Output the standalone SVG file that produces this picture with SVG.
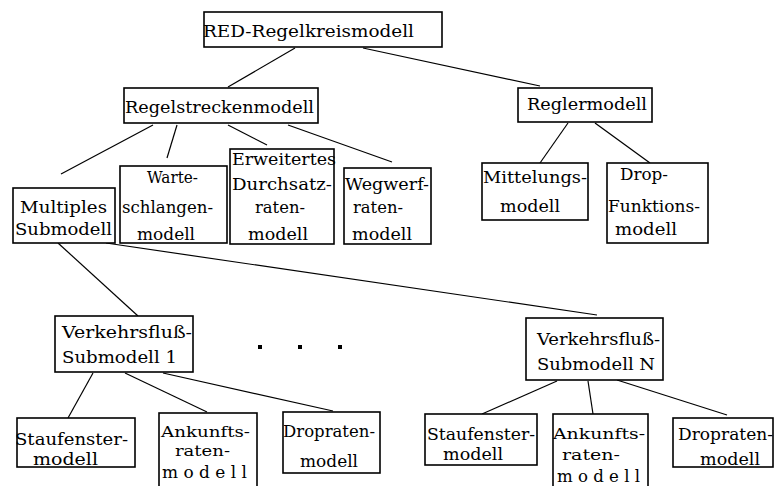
<svg xmlns="http://www.w3.org/2000/svg" width="775" height="486" viewBox="0 0 775 486">
<style>
.b{fill:#fff;stroke:#000;stroke-width:1.6}
.t{font-family:"DejaVu Serif","Liberation Serif",serif;font-size:17px;fill:#000}
.s{font-size:15px}
.c line{stroke:#000;stroke-width:1.2}
</style>
<rect width="775" height="486" fill="#fff"/>
<g class="c" id="connectors">
<line x1="295" y1="48" x2="228" y2="87"/>
<line x1="363" y1="48" x2="540" y2="86"/>
<line x1="153" y1="125" x2="61" y2="174"/>
<line x1="177" y1="125" x2="167" y2="158"/>
<line x1="228" y1="125" x2="267" y2="145"/>
<line x1="288" y1="125" x2="392" y2="162"/>
<line x1="568" y1="123" x2="540" y2="163"/>
<line x1="595" y1="123" x2="650" y2="163"/>
<line x1="58" y1="243" x2="138" y2="316"/>
<line x1="106" y1="243" x2="597" y2="315"/>
<line x1="93" y1="373" x2="68" y2="418"/>
<line x1="125" y1="373" x2="207" y2="412"/>
<line x1="163" y1="373" x2="333" y2="411"/>
<line x1="557" y1="381" x2="482" y2="414"/>
<line x1="588" y1="381" x2="593" y2="414"/>
<line x1="617" y1="380" x2="727" y2="415"/>
</g>
<g id="root"><rect class="b" x="204" y="12" width="238" height="35"/>
<text class="t" x="203" y="37" textLength="211" lengthAdjust="spacingAndGlyphs">RED-Regelkreismodell</text></g>
<g id="regelstrecken"><rect class="b" x="124" y="88" width="194" height="35"/>
<text class="t" x="125" y="113" textLength="189" lengthAdjust="spacingAndGlyphs">Regelstreckenmodell</text></g>
<g id="regler"><rect class="b" x="518" y="88" width="134" height="34"/>
<text class="t" x="527" y="110" textLength="120" lengthAdjust="spacingAndGlyphs">Reglermodell</text></g>
<g id="multiples"><rect class="b" x="13" y="188" width="102" height="55"/>
<text class="t" x="20" y="213" textLength="87" lengthAdjust="spacingAndGlyphs">Multiples</text>
<text class="t" x="15" y="235" textLength="97" lengthAdjust="spacingAndGlyphs">Submodell</text></g>
<g id="warteschlangen"><rect class="b" x="120" y="166" width="107" height="77"/>
<text class="t" x="147" y="183" textLength="51" lengthAdjust="spacingAndGlyphs">Warte-</text>
<text class="t" x="122" y="213" textLength="91" lengthAdjust="spacingAndGlyphs">schlangen-</text>
<text class="t" x="137" y="240" textLength="58" lengthAdjust="spacingAndGlyphs">modell</text></g>
<g id="durchsatz"><rect class="b" x="230" y="149" width="104" height="95"/>
<text class="t" x="232" y="165" textLength="104" lengthAdjust="spacingAndGlyphs">Erweitertes</text>
<text class="t" x="232" y="190" textLength="100" lengthAdjust="spacingAndGlyphs">Durchsatz-</text>
<text class="t" x="255" y="213" textLength="50" lengthAdjust="spacingAndGlyphs">raten-</text>
<text class="t" x="248" y="240" textLength="60" lengthAdjust="spacingAndGlyphs">modell</text></g>
<g id="wegwerf"><rect class="b" x="344" y="168" width="87" height="76"/>
<text class="t" x="345" y="190" textLength="84" lengthAdjust="spacingAndGlyphs">Wegwerf-</text>
<text class="t" x="353" y="213" textLength="50" lengthAdjust="spacingAndGlyphs">raten-</text>
<text class="t" x="352" y="240" textLength="60" lengthAdjust="spacingAndGlyphs">modell</text></g>
<g id="mittelungs"><rect class="b" x="482" y="163" width="106" height="57"/>
<text class="t" x="483" y="183" textLength="104" lengthAdjust="spacingAndGlyphs">Mittelungs-</text>
<text class="t" x="500" y="212" textLength="60" lengthAdjust="spacingAndGlyphs">modell</text></g>
<g id="dropfunktion"><rect class="b" x="607" y="163" width="101" height="80"/>
<text class="t" x="620" y="180" textLength="48" lengthAdjust="spacingAndGlyphs">Drop-</text>
<text class="t" x="608" y="212" textLength="92" lengthAdjust="spacingAndGlyphs">Funktions-</text>
<text class="t" x="615" y="235" textLength="62" lengthAdjust="spacingAndGlyphs">modell</text></g>
<g id="vs1"><rect class="b" x="55" y="316" width="138" height="56"/>
<text class="t" x="62" y="338" textLength="130" lengthAdjust="spacingAndGlyphs">Verkehrsfluß-</text>
<text class="t" x="62" y="363" textLength="115" lengthAdjust="spacingAndGlyphs">Submodell 1</text></g>
<g id="dots">
<rect x="258" y="345" width="4" height="4"/><rect x="298" y="345" width="4" height="4"/><rect x="338" y="345" width="4" height="4"/>
</g>
<g id="vsn"><rect class="b" x="526" y="318" width="137" height="62"/>
<text class="t" x="537" y="345" textLength="123" lengthAdjust="spacingAndGlyphs">Verkehrsfluß-</text>
<text class="t" x="537" y="370" textLength="118" lengthAdjust="spacingAndGlyphs">Submodell N</text></g>
<g id="stau1"><rect class="b" x="17" y="418" width="118" height="49"/>
<text class="t" x="15" y="445" textLength="113" lengthAdjust="spacingAndGlyphs">Staufenster-</text>
<text class="t" x="33" y="465" textLength="65" lengthAdjust="spacingAndGlyphs">modell</text></g>
<g id="ankunft1"><rect class="b" x="159" y="413" width="98" height="80"/>
<text class="t s" x="161" y="437" textLength="89" lengthAdjust="spacingAndGlyphs">Ankunfts-</text>
<text class="t s" x="175" y="456" textLength="55" lengthAdjust="spacingAndGlyphs">raten-</text>
<text class="t" x="162" y="478" textLength="85" lengthAdjust="spacingAndGlyphs">m o d e l l</text></g>
<g id="droprate1"><rect class="b" x="283" y="412" width="97" height="61"/>
<text class="t" x="283" y="437" textLength="92" lengthAdjust="spacingAndGlyphs">Dropraten-</text>
<text class="t" x="300" y="467" textLength="58" lengthAdjust="spacingAndGlyphs">modell</text></g>
<g id="staun"><rect class="b" x="425" y="414" width="112" height="51"/>
<text class="t" x="427" y="440" textLength="108" lengthAdjust="spacingAndGlyphs">Staufenster-</text>
<text class="t" x="443" y="460" textLength="60" lengthAdjust="spacingAndGlyphs">modell</text></g>
<g id="ankunftn"><rect class="b" x="553" y="414" width="95" height="80"/>
<text class="t s" x="553" y="439" textLength="92" lengthAdjust="spacingAndGlyphs">Ankunfts-</text>
<text class="t s" x="562" y="460" textLength="58" lengthAdjust="spacingAndGlyphs">raten-</text>
<text class="t" x="557" y="482" textLength="83" lengthAdjust="spacingAndGlyphs">m o d e l l</text></g>
<g id="dropraten"><rect class="b" x="673" y="418" width="100" height="49"/>
<text class="t" x="678" y="440" textLength="95" lengthAdjust="spacingAndGlyphs">Dropraten-</text>
<text class="t" x="700" y="465" textLength="60" lengthAdjust="spacingAndGlyphs">modell</text></g>
</svg>
